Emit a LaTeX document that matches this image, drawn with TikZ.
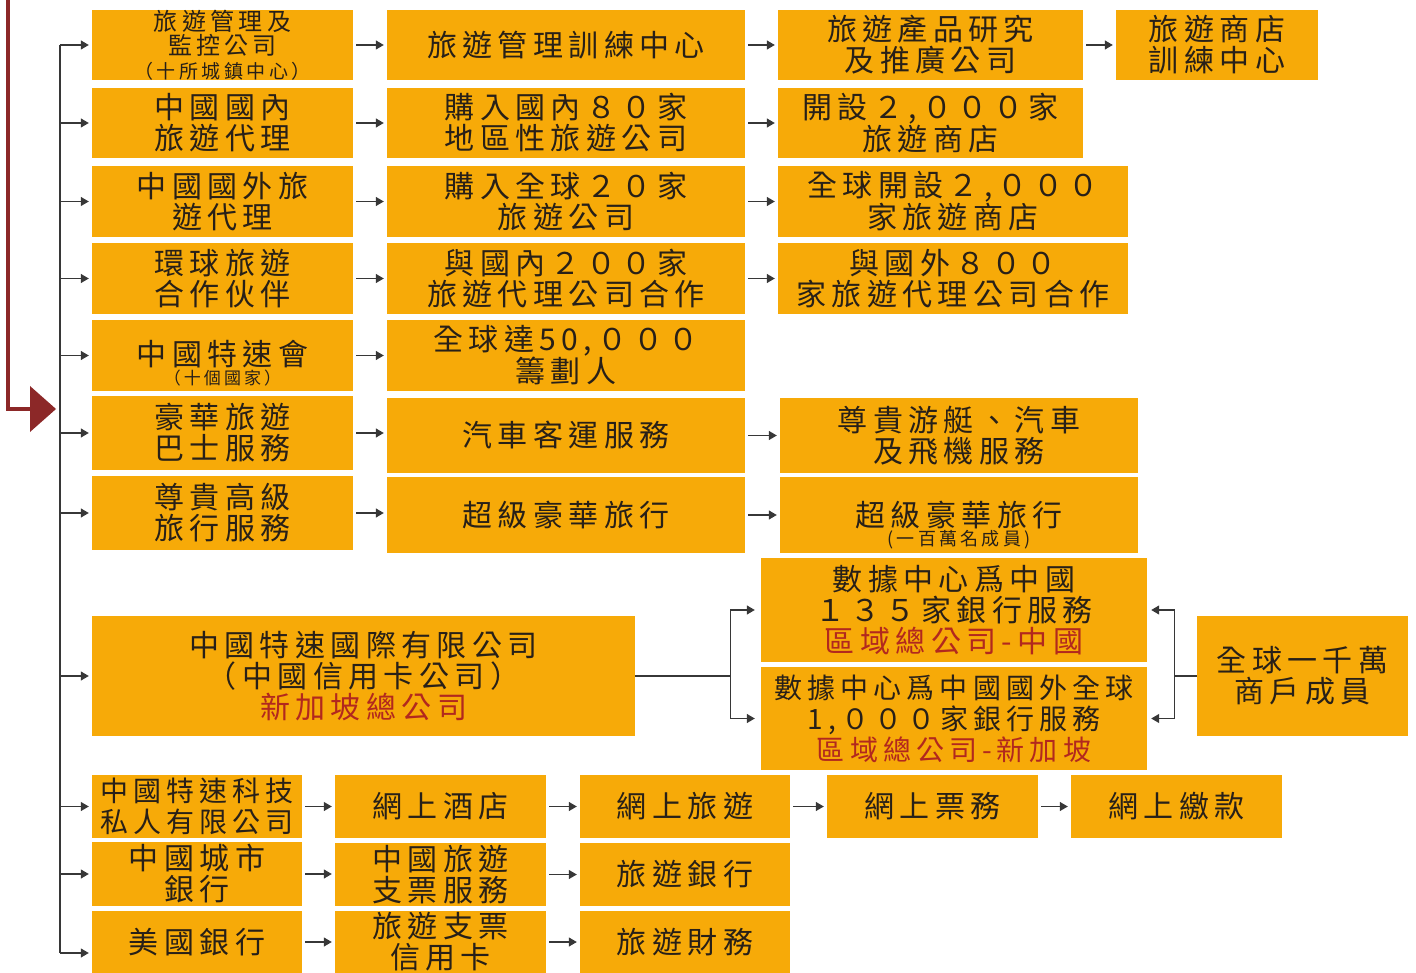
\documentclass[tikz,border=0pt]{standalone}
\usepackage{fontspec}
\usetikzlibrary{arrows.meta}
\newfontfamily\cjk{Noto Sans CJK TC}[LetterSpace=18]
\definecolor{boxorange}{RGB}{247,170,8}
\definecolor{inkdark}{RGB}{40,32,24}
\definecolor{inkred}{RGB}{178,40,30}
\definecolor{arrowred}{RGB}{140,40,40}
\definecolor{linegray}{RGB}{55,55,55}

\begin{document}
\begin{tikzpicture}[x=1pt,y=-1pt]
  \tikzset{box/.style 2 args={fill=boxorange,text=inkdark,inner sep=0pt,align=center,
      minimum width=#1pt,minimum height=#2pt,font=\cjk\fontsize{30}{31}\selectfont},
    conn/.style={draw=linegray,line width=1.2pt,-{Triangle[length=8pt,width=9pt]},shorten >=3pt},
    link/.style={draw=linegray,line width=1.2pt}}
  \useasboundingbox (0,0) rectangle (1416,973);

  % incoming arrow
  \coordinate (redtop) at (8,-5);
  \coordinate (redtip) at (32,409);
  \draw[arrowred,line width=3.5pt] (redtop) |- (redtip);
  \fill[arrowred] (30,386) -- (56,409) -- (30,432) -- cycle;

  % first column
  \node [box={261}{70},font=\cjk\fontsize{24}{24}\selectfont] (a1) at (222.5,45) {旅遊管理及\\監控公司\\\fontsize{19}{21}\selectfont （十所城鎮中心）};
  \node [box={261}{70}] (a2) at (222.5,123) {中國國內\\旅遊代理};
  \node [box={261}{71}] (a3) at (222.5,201.5) {中國國外旅\\遊代理};
  \node [box={261}{71}] (a4) at (222.5,278.5) {環球旅遊\\合作伙伴};
  \node [box={261}{71}] (a5) at (222.5,355.5) {\rule{0pt}{41pt}中國特速會\\[-12pt]\fontsize{17}{20}\selectfont （十個國家）};
  \node [box={261}{74}] (a6) at (222.5,433) {豪華旅遊\\巴士服務};
  \node [box={261}{74}] (a7) at (222.5,513) {尊貴高級\\旅行服務};

  % second column
  \node [box={358}{70}] (b1) at (566,45) {旅遊管理訓練中心};
  \node [box={358}{70}] (b2) at (566,123) {購入國內８０家\\地區性旅遊公司};
  \node [box={358}{71}] (b3) at (566,201.5) {購入全球２０家\\旅遊公司};
  \node [box={358}{71}] (b4) at (566,278.5) {與國內２００家\\旅遊代理公司合作};
  \node [box={358}{71}] (b5) at (566,355.5) {全球達50,０００\\籌劃人};
  \node [box={358}{75}] (b6) at (566,435.5) {汽車客運服務};
  \node [box={358}{76}] (b7) at (566,515) {超級豪華旅行};

  % third and fourth column
  \node [box={305}{70}] (c1) at (930.5,45) {旅遊產品研究\\及推廣公司};
  \node [box={305}{70}] (c2) at (930.5,123) {開設２,０００家\\旅遊商店};
  \node [box={350}{71}] (c3) at (953,201.5) {全球開設２,０００\\家旅遊商店};
  \node [box={350}{71}] (c4) at (953,278.5) {與國外８００\\家旅遊代理公司合作};
  \node [box={358}{75}] (c6) at (959,435.5) {尊貴游艇、汽車\\及飛機服務};
  \node [box={358}{76}] (c7) at (959,515) {\rule{0pt}{45pt}超級豪華旅行\\[-12pt]\fontsize{18}{22}\selectfont (一百萬名成員)};
  \node [box={202}{70}] (e1) at (1217,45) {旅遊商店\\訓練中心};

  % card company and data centres
  \node [box={543}{120}] (card) at (363.5,676) {中國特速國際有限公司\\（中國信用卡公司）\\\textcolor{inkred}{新加坡總公司}};
  \node [box={386}{104}] (dc1) at (954,610) {數據中心爲中國\\１３５家銀行服務\\\textcolor{inkred}{區域總公司-中國}};
  \node [box={386}{103},font=\cjk\fontsize{28}{31}\selectfont] (dc2) at (954,718.5) {數據中心爲中國國外全球\\1,０００家銀行服務\\\textcolor{inkred}{區域總公司-新加坡}};
  \node [box={211}{120}] (merch) at (1302.5,676) {全球一千萬\\商戶成員};

  % bottom rows
  \node [box={210}{63},font=\cjk\fontsize{28}{31}\selectfont] (f1) at (197,806.5) {中國特速科技\\私人有限公司};
  \node [box={210}{64}] (f2) at (197,874) {中國城市\\銀行};
  \node [box={210}{62}] (f3) at (197,942) {美國銀行};
  \node [box={211}{63}] (g1) at (440.5,806.5) {網上酒店};
  \node [box={211}{63}] (g2) at (440.5,874.5) {中國旅遊\\支票服務};
  \node [box={211}{62}] (g3) at (440.5,942) {旅遊支票\\信用卡};
  \node [box={210}{63}] (h1) at (685,806.5) {網上旅遊};
  \node [box={210}{63}] (h2) at (685,874.5) {旅遊銀行};
  \node [box={210}{62}] (h3) at (685,942) {旅遊財務};
  \node [box={211}{63}] (i1) at (932.5,806.5) {網上票務};
  \node [box={211}{63}] (j1) at (1176.5,806.5) {網上繳款};

  % left trunk
  \coordinate (trunk) at (60,0);
  \coordinate (f3in) at ([yshift=-11pt]f3.west);
  \draw[link] (a1.west -| trunk) -- (f3in -| trunk);
  \foreach \n in {a1,a2,a3,a4,a5,a6,a7,card,f1,f2}
    \draw[conn] (\n.west -| trunk) -- (\n.west);
  \draw[conn] (f3in -| trunk) -- (f3in);

  % arrows between columns
  \foreach \l/\r in {a1/b1,a2/b2,a3/b3,a4/b4,a5/b5,a6/b6,a7/b7,b1/c1,b2/c2,b3/c3,b4/c4,b6/c6,b7/c7,c1/e1,
      f1/g1,f2/g2,f3/g3,g1/h1,g2/h2,g3/h3,h1/i1,i1/j1}
    \draw[conn,shorten <=3pt] (\l.east) -- (\l.east -| \r.west);

  % forks to the data centres
  \coordinate (forkL) at ([xshift=95pt]card.east);
  \coordinate (forkR) at ([xshift=-22pt]merch.west);
  \draw[link] (card.east) -- (forkL);
  \draw[conn,shorten >=6pt] (forkL) |- (dc1.west);
  \draw[conn,shorten >=6pt] (forkL) |- (dc2.west);
  \draw[link] (merch.west) -- (forkR);
  \draw[conn,shorten >=4pt] (forkR) |- (dc1.east);
  \draw[conn,shorten >=4pt] (forkR) |- (dc2.east);
\end{tikzpicture}
\end{document}
